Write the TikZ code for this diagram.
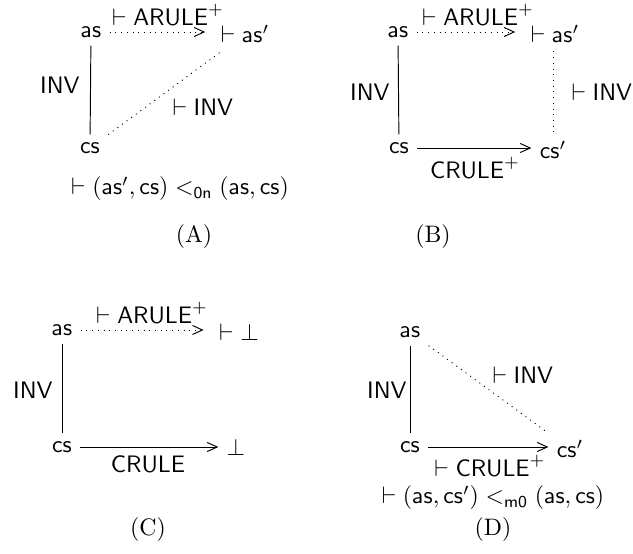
\documentclass[tikz,border=0pt]{standalone}
\usetikzlibrary{arrows.meta}
\begin{document}
\begin{tikzpicture}[x=0.42pt,y=-0.42pt,
  obj/.style={},
  lbl/.style={inner sep=1pt},
  tipstyle/.style={-{Straight Barb[length=4.2pt,width=3.8pt]}},
  solidarrow/.style={tipstyle},
  dotarrow/.style={dotted,tipstyle,shorten >=3pt},
  dotline/.style={dotted},
  plainline/.style={}]
\useasboundingbox (0,0) rectangle (633,554);
% ---------- (A)
\node[obj] (a1) at (91,32) {$\mathsf{as}$};
\node[obj] (a1p) at (245,34) {$\vdash \mathsf{as}'$};
\node[obj] (c1) at (90,148) {$\mathsf{cs}$};
\draw[dotarrow] (a1) -- (a1 -| a1p.west);
\draw[plainline] (a1) -- (c1);
\draw[dotline] (c1) -- (a1p);
\node[lbl] (la1) at (168,15) {$\vdash \mathsf{ARULE}^{+}$};
\node[lbl] (la2) at (60,85) {$\mathsf{INV}$};
\node[lbl] (la3) at (203,107) {$\vdash \mathsf{INV}$};
\node[lbl] (la4) at (180,189) {$\vdash (\mathsf{as}', \mathsf{cs}) <_{\mathsf{0n}} (\mathsf{as}, \mathsf{cs})$};
\node[lbl] (capA) at (194,237) {(A)};
% ---------- (B)
\node[obj] (a2) at (398,32) {$\mathsf{as}$};
\node[obj] (a2p) at (555,34) {$\vdash \mathsf{as}'$};
\node[obj] (c2) at (399,148) {$\mathsf{cs}$};
\node[obj] (c2p) at (553,150) {$\mathsf{cs}'$};
\draw[dotarrow] (a2) -- (a2 -| a2p.west);
\draw[plainline] (a2) -- (c2);
\draw[dotline] (a2p.south -| c2p) -- (c2p);
\draw[solidarrow] (c2) -- (c2 -| c2p.west);
\node[lbl] (lb1) at (478,15) {$\vdash \mathsf{ARULE}^{+}$};
\node[lbl] (lb2) at (370,92) {$\mathsf{INV}$};
\node[lbl] (lb3) at (602,92) {$\vdash \mathsf{INV}$};
\node[lbl] (lb4) at (475,168) {$\mathsf{CRULE}^{+}$};
\node[lbl] (capB) at (433,237) {(B)};
% ---------- (C)
\node[obj] (a3) at (62,330) {$\mathsf{as}$};
\node[obj] (a3p) at (239,332) {$\vdash \bot$};
\node[obj] (c3) at (62,447) {$\mathsf{cs}$};
\node[obj] (c3p) at (236,447) {$\bot$};
\draw[dotarrow] (a3) -- (a3 -| a3p.west);
\draw[plainline] (a3) -- (c3);
\draw[solidarrow] (c3) -- (c3p);
\node[lbl] (lc1) at (152,313) {$\vdash \mathsf{ARULE}^{+}$};
\node[lbl] (lc2) at (33,390) {$\mathsf{INV}$};
\node[lbl] (lc3) at (148,464) {$\mathsf{CRULE}$};
\node[lbl] (capC) at (148,530) {(C)};
% ---------- (D)
\node[obj] (a4) at (410,332) {$\mathsf{as}$};
\node[obj] (c4) at (410,447) {$\mathsf{cs}$};
\node[obj] (c4p) at (570,449) {$\mathsf{cs}'$};
\draw[plainline] (a4) -- (c4);
\draw[solidarrow] (c4) -- (c4 -| c4p.west);
\draw[dotline] (a4) -- (c4p);
\node[lbl] (ld1) at (523,375) {$\vdash \mathsf{INV}$};
\node[lbl] (ld2) at (387,390) {$\mathsf{INV}$};
\node[lbl] (ld3) at (490,466) {$\vdash \mathsf{CRULE}^{+}$};
\node[lbl] (ld4) at (493,498) {$\vdash (\mathsf{as}, \mathsf{cs}') <_{\mathsf{m0}} (\mathsf{as}, \mathsf{cs})$};
\node[lbl] (capD) at (493,530) {(D)};
\end{tikzpicture}
\end{document}
